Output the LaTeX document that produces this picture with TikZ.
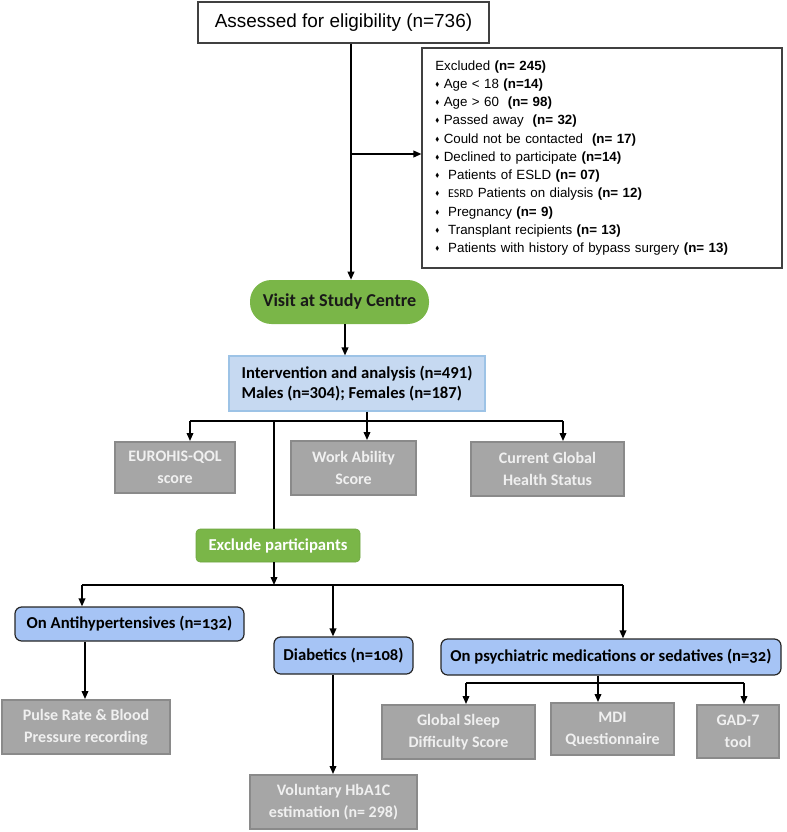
\documentclass[tikz,border=0pt]{standalone}
\usepackage{fontspec}
\usepackage{amssymb}
\setmainfont{Liberation Sans}
\newfontfamily\cali{Carlito}
\newfontfamily\caliold{Carlito}[Numbers=OldStyle]
\usetikzlibrary{arrows.meta}
\definecolor{pillgreen}{RGB}{122,182,72}
\definecolor{topblue}{RGB}{198,217,241}
\definecolor{topblueline}{RGB}{157,195,230}
\definecolor{lowblue}{RGB}{166,196,245}
\definecolor{boxgray}{RGB}{166,166,166}
\definecolor{boxgrayline}{RGB}{138,138,138}
\newcommand{\dmd}{\raisebox{0.3ex}{\scalebox{0.45}{$\blacklozenge$}}\ }
\begin{document}
\begin{tikzpicture}[x=0.75pt, y=-0.75pt,
    arr/.style={-{Triangle[length=6pt,width=5pt]}, line width=1.1pt},
    link/.style={line width=1.1pt},
    wh/.style 2 args={minimum width=#1*0.75pt, minimum height=#2*0.75pt, inner sep=0pt},
    plainbox/.style={draw=black!75, line width=0.8pt, fill=white},
    pill/.style={fill=pillgreen, rounded corners=16pt, text=black!90,
        font=\cali\bfseries\fontsize{13.6}{15}\selectfont},
    greenbox/.style={fill=pillgreen, draw=pillgreen!90!black, rounded corners=3pt, text=white,
        font=\cali\bfseries\fontsize{12.5}{14}\selectfont},
    topbox/.style={fill=topblue, draw=topblueline, line width=0.8pt, align=left,
        font=\cali\bfseries\fontsize{12.5}{15.5}\selectfont},
    lowbox/.style={fill=lowblue, draw=black!85, line width=0.9pt, rounded corners=5pt,
        font=\caliold\bfseries\fontsize{12.5}{14}\selectfont},
    graybox/.style={fill=boxgray, draw=boxgrayline, line width=1.5pt, text=white!94!black, align=center,
        font=\cali\bfseries\fontsize{12}{16.5}\selectfont}
  ]
            \useasboundingbox (0,0) rectangle (787,832);
            \node[plainbox, wh={291}{41}, font=\fontsize{14.2}{16}\selectfont] (assess) at (343.5,22.5) {Assessed for eligibility (n=736)};
            \node[plainbox, wh={360}{220}, inner xsep=8pt, text width=250pt, align=left, font=\fontsize{10}{13.7}\selectfont] (excl) at (602,158)
            {Excluded \textbf{(n= 245)}\\
            \dmd Age < 18 \textbf{(n=14)}\\
            \dmd Age > 60 \ \textbf{(n= 98)}\\
            \dmd Passed away \ \textbf{(n= 32)}\\
            \dmd Could not be contacted \ \textbf{(n= 17)}\\
            \dmd Declined to participate \textbf{(n=14)}\\
            \dmd \ Patients of ESLD \textbf{(n= 07)}\\
            \dmd \ {\cali\fontsize{9}{10}\selectfont ESRD} Patients on dialysis \textbf{(n= 12)}\\
            \dmd \ Pregnancy \textbf{(n= 9)}\\
            \dmd \ Transplant recipients \textbf{(n= 13)}\\
            \dmd \ Patients with history of bypass surgery \textbf{(n= 13)}};
            \node[pill, wh={179}{44}] (visit) at (339.5,302) {Visit at Study Centre};
            \node[topbox, wh={256}{55}] (analysis) at (357,383.5) {Intervention and analysis (n=491)\\Males (n=304); Females (n=187)};
            \node[graybox, wh={120}{51}] (eurohis) at (175,467.5) {EUROHIS-QOL\\score};
            \node[graybox, wh={125}{54}] (work) at (353.5,468) {Work Ability\\Score};
            \node[graybox, wh={153}{54}] (health) at (547.5,469) {Current Global\\Health Status};
            \node[greenbox, wh={164}{33}] (exclude) at (278,545.5) {Exclude participants};
            \node[lowbox, wh={229}{34}] (antihyp) at (129.5,624) {On Antihypertensives (n=132)};
            \node[lowbox, wh={139}{37}] (diab) at (343.5,655.5) {Diabetics (n=108)};
            \node[lowbox, wh={340}{36}] (psych) at (611,657) {On psychiatric medications or sedatives (n=32)};
            \node[graybox, wh={168}{54}] (pulse) at (86,727) {Pulse Rate \& Blood\\Pressure recording};
            \node[graybox, wh={167}{54}] (hba) at (333.5,802) {Voluntary HbA1C\\estimation (n= 298)};
            \node[graybox, wh={153}{54}] (sleep) at (458.5,732) {Global Sleep\\Difficulty Score};
            \node[graybox, wh={123}{52}] (mdi) at (612.5,729) {MDI\\Questionnaire};
            \node[graybox, wh={82}{53}] (gad) at (738,731.5) {GAD-7\\tool};
            \coordinate (sp) at (351,154);
            \coordinate (vx) at (345,0);
            \coordinate (j1) at (367,421);
            \coordinate (b1l) at (190,421);
            \coordinate (b1r) at (563,421);
            \coordinate (j2) at (274,421);
            \coordinate (j3) at (274,585);
            \coordinate (b2l) at (82,585);
            \coordinate (b2r) at (623,585);
            \coordinate (j4) at (333,585);
            \coordinate (hx) at (85,0);
            \coordinate (j6) at (598,683);
            \coordinate (b3l) at (466,683);
            \coordinate (b3r) at (744,683);
            \draw[arr] (sp |- assess.south) -- (sp |- visit.north);
            \draw[arr] (sp) -- (sp -| excl.west);
            \draw[arr] (vx |- visit.south) -- (vx |- analysis.north);
            \draw[arr] (j1 |- analysis.south) -- (j1 |- work.north);
            \draw[link] (b1l) -- (b1r);
            \draw[arr] (b1l) -- (b1l |- eurohis.north);
            \draw[arr] (b1r) -- (b1r |- health.north);
            \draw[link] (j2) -- (j2 |- exclude.north);
            \draw[arr] (j3 |- exclude.south) -- (j3);
            \draw[link] (b2l) -- (b2r);
            \draw[arr] (b2l) -- (b2l |- antihyp.north);
            \draw[arr] (j4) -- (j4 |- diab.north);
            \draw[arr] (b2r) -- (b2r |- psych.north);
            \draw[arr] (hx |- antihyp.south) -- (hx |- pulse.north);
            \draw[arr] (j4 |- diab.south) -- (j4 |- hba.north);
            \draw[link] (j6 |- psych.south) -- (j6);
            \draw[link] (b3l) -- (b3r);
            \draw[arr] (b3l) -- (b3l |- sleep.north);
            \draw[arr] (j6) -- (j6 |- mdi.north);
            \draw[arr] (b3r) -- (b3r |- gad.north);
\end{tikzpicture}
\end{document}
